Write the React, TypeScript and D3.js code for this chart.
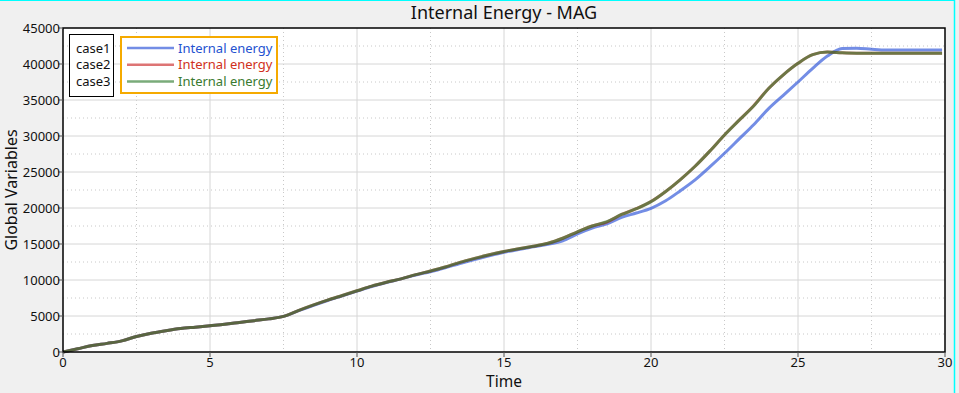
import React from "react";
import * as d3 from "d3";

const title = "Internal Energy - MAG";
const xLabel = "Time";
const yLabel = "Global Variables";
const caseNames = ["case1", "case2", "case3"];
const seriesNames = ["Internal energy", "Internal energy", "Internal energy"];
const xTicks = [0, 5, 10, 15, 20, 25, 30];
const yTicks = [0, 5000, 10000, 15000, 20000, 25000, 30000, 35000, 40000, 45000];

const time = [
  0, 0.5, 1, 1.5, 2, 2.5, 3, 3.5, 4, 4.5, 5, 5.5, 6, 6.5, 7, 7.5, 8, 8.5, 9, 9.5,
  10, 10.5, 11, 11.5, 12, 12.5, 13, 13.5, 14, 14.5, 15, 15.5, 16, 16.5, 17, 17.5,
  18, 18.5, 19, 19.5, 20, 20.5, 21, 21.5, 22, 22.5, 23, 23.5, 24, 24.5, 25, 25.5,
  26, 26.5, 27, 27.5, 28, 28.5, 29, 29.5, 29.9,
];

const case1 = [
  0, 450, 900, 1200, 1550, 2150, 2600, 2950, 3250, 3450, 3650, 3850, 4100, 4350, 4600, 4950, 5700, 6450, 7150, 7800,
  8450, 9100, 9650, 10150, 10700, 11150, 11700, 12300, 12850, 13350, 13850, 14250, 14600, 14950, 15450, 16400,
  17200, 17800, 18700, 19300, 19960, 21000, 22400, 23900, 25700, 27600, 29600, 31600, 33800, 35650, 37500, 39400,
  41100, 42150, 42200, 42050, 41950, 41950, 41950, 41950, 41950,
];

const case2 = [
  0, 450, 900, 1200, 1550, 2150, 2600, 2950, 3250, 3450, 3650, 3850, 4100, 4350, 4600, 4950, 5750, 6500, 7200, 7850,
  8500, 9150, 9680, 10150, 10750, 11250, 11800, 12450, 13000, 13500, 13950, 14350, 14700, 15100, 15800, 16700,
  17500, 18050, 19100, 19900, 20900, 22300, 23950, 25800, 27900, 30150, 32200, 34250, 36600, 38500, 40100, 41300,
  41650, 41550, 41500, 41500, 41500, 41500, 41500, 41500, 41500,
];

const case3 = [
  0, 450, 900, 1200, 1550, 2150, 2600, 2950, 3250, 3450, 3650, 3850, 4100, 4350, 4600, 4950, 5750, 6500, 7200, 7850,
  8500, 9150, 9680, 10150, 10750, 11250, 11800, 12450, 13000, 13500, 13950, 14350, 14700, 15100, 15800, 16700,
  17500, 18100, 19100, 19900, 20880, 22300, 23950, 25800, 27900, 30140, 32200, 34200, 36600, 38500, 40100, 41300,
  41650, 41550, 41500, 41500, 41500, 41500, 41500, 41500, 41500,
];

const W = 959;
const H = 393;
const M = { left: 63, right: 945, top: 28, bottom: 352 };
const FONT = "'Noto Sans', 'Open Sans', sans-serif";

export default function App() {
  const x = d3.scaleLinear().domain([0, 30]).range([M.left, M.right]);
  const y = d3.scaleLinear().domain([0, 45000]).range([M.bottom, M.top]);
  const minorX = d3.range(2.5, 30, 5);
  const minorY = d3.range(2500, 45000, 5000);

  const mk = (vals: number[]) =>
    d3
      .line<number>()
      .x((_, i) => x(time[i]))
      .y((v) => y(v))
      .curve(d3.curveMonotoneX)(vals) as string;

  const blue = { vals: case1, color: "rgb(40,80,215)", text: "#2452d0", op: 0.65 };
  const red = { vals: case2, color: "rgb(200,30,30)", text: "#d03020", op: 0.62 };
  const green = { vals: case3, color: "rgb(40,120,40)", text: "#3a7a30", op: 0.62 };
  const drawOrder = [blue, red, green];
  const legendOrder = [blue, red, green];

  return (
    <svg
      width={W}
      height={H}
      style={{ position: "absolute", left: 0, top: 0, display: "block" }}
      fontFamily={FONT}
    >
      <rect x={0} y={0} width={W} height={H} fill="#f0f0f0" />
      <line x1={0} x2={955} y1={0.5} y2={0.5} stroke="#00ffff" strokeWidth={1} />
      <line x1={954.5} x2={954.5} y1={0} y2={H} stroke="#00ffff" strokeWidth={1.5} />

      <rect x={M.left} y={M.top} width={M.right - M.left} height={M.bottom - M.top} fill="#ffffff" />

      {minorX.map((v) => (
        <line key={"mx" + v} x1={x(v)} x2={x(v)} y1={M.top} y2={M.bottom} stroke="#c8c8c8" strokeDasharray="1,3" />
      ))}
      {minorY.map((v) => (
        <line key={"my" + v} x1={M.left} x2={M.right} y1={y(v)} y2={y(v)} stroke="#c8c8c8" strokeDasharray="1,3" />
      ))}
      {xTicks.slice(1, -1).map((v) => (
        <line key={"gx" + v} x1={x(v)} x2={x(v)} y1={M.top} y2={M.bottom} stroke="#d6d6d6" />
      ))}
      {yTicks.slice(1, -1).map((v) => (
        <line key={"gy" + v} x1={M.left} x2={M.right} y1={y(v)} y2={y(v)} stroke="#d6d6d6" />
      ))}

      {drawOrder.map((s, i) => (
        <path key={i} d={mk(s.vals)} fill="none" stroke={s.color} strokeOpacity={s.op} strokeWidth={3} strokeLinejoin="round" />
      ))}

      <rect
        x={M.left}
        y={M.top}
        width={M.right - M.left}
        height={M.bottom - M.top}
        fill="none"
        stroke="#000"
        strokeWidth={1.5}
      />

      {xTicks.map((v) => (
        <g key={"xt" + v}>
          <line x1={x(v)} x2={x(v)} y1={M.bottom} y2={M.bottom + 5} stroke="#555" />
          <text x={x(v)} y={367} textAnchor="middle" fontSize={13} fill="#111">
            {v}
          </text>
        </g>
      ))}
      {yTicks.map((v) => (
        <g key={"yt" + v}>
          <line x1={M.left - 5} x2={M.left} y1={y(v)} y2={y(v)} stroke="#555" />
          <text x={60} y={y(v)} dy="0.35em" textAnchor="end" fontSize={13} fill="#111">
            {v}
          </text>
        </g>
      ))}

      <text x={504} y={19} textAnchor="middle" fontSize={18} fill="#111">
        {title}
      </text>
      <text x={504} y={387} textAnchor="middle" fontSize={15.5} fill="#111">
        {xLabel}
      </text>
      <text
        transform={`translate(17,190) rotate(-90)`}
        textAnchor="middle"
        fontSize={16}
        fill="#111"
      >
        {yLabel}
      </text>

      <rect x={69.5} y={34.5} width={44} height={62} fill="#fff" stroke="#000" strokeWidth={1} />
      {caseNames.map((c, i) => (
        <text key={c} x={76} y={48 + i * 16.7} dy="0.35em" fontSize={13} fill="#111">
          {c}
        </text>
      ))}

      <rect x={121} y={37} width={156} height={56} fill="#fff" stroke="#f5aa00" strokeWidth={2} />
      {legendOrder.map((s, i) => (
        <g key={"lg" + i}>
          <line
            x1={127}
            x2={174}
            y1={48 + i * 16.7}
            y2={48 + i * 16.7}
            stroke={s.color}
            strokeOpacity={s.op}
            strokeWidth={2.5}
          />
          <text x={178} y={48 + i * 16.7} dy="0.35em" fontSize={13} fill={s.text}>
            {seriesNames[i]}
          </text>
        </g>
      ))}
    </svg>
  );
}
